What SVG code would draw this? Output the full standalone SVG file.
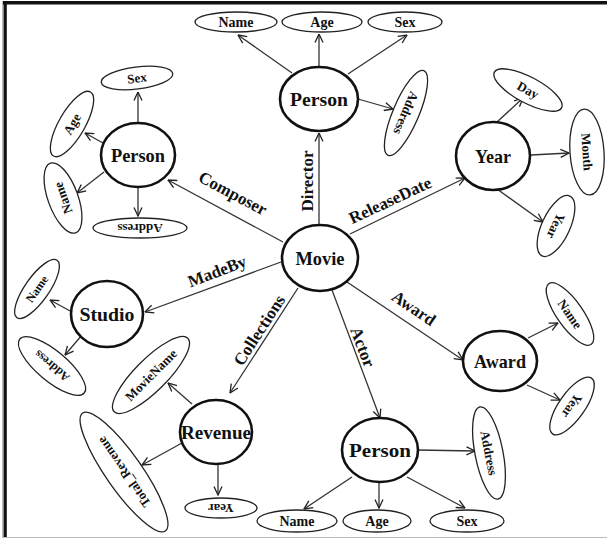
<svg xmlns="http://www.w3.org/2000/svg" width="607" height="539" viewBox="0 0 607 539">
<defs>
<marker id="arr" viewBox="0 0 10 10" refX="9.5" refY="5" markerWidth="10" markerHeight="10" markerUnits="userSpaceOnUse" orient="auto">
<path d="M1,1 L9.5,5 L1,9" fill="none" stroke="#222" stroke-width="1.3"/>
</marker>
<style>
.ent{fill:#fff;stroke:#111;stroke-width:2.6}
.att{fill:#fff;stroke:#222;stroke-width:1.3}
.e{stroke:#333;stroke-width:1.3;fill:none;marker-end:url(#arr)}
text{font-family:"Liberation Serif","Times New Roman",serif;font-weight:bold;fill:#111;text-anchor:middle}
.nl{font-size:19px}
.al{font-size:14px}
.sl{font-size:13px}
.el{font-size:17px}
</style>
</defs>
<rect width="607" height="539" fill="#fff"/>
<g id="frame">
<rect x="3" y="1" width="604" height="3.5" fill="#111"/>
<rect x="3.5" y="1" width="3.3" height="537" fill="#111"/>
<line x1="2.5" y1="1" x2="2.5" y2="538" stroke="#bbb" stroke-width="1"/>
<line x1="3" y1="537.5" x2="607" y2="537.5" stroke="#bbb" stroke-width="1.2"/>
</g>
<g id="connectors">
<line class="e" x1="319" y1="225" x2="319" y2="133"/>
<line class="e" x1="350" y1="234" x2="465" y2="178"/>
<line class="e" x1="283" y1="242" x2="168" y2="180"/>
<line class="e" x1="281" y1="262" x2="145" y2="312"/>
<line class="e" x1="298" y1="288" x2="230" y2="393"/>
<line class="e" x1="332" y1="290" x2="380" y2="418"/>
<line class="e" x1="347" y1="282" x2="463" y2="360"/>
<line class="e" x1="292" y1="73" x2="238" y2="35"/>
<line class="e" x1="319" y1="67" x2="319" y2="34"/>
<line class="e" x1="348" y1="74" x2="407" y2="35"/>
<line class="e" x1="358" y1="99" x2="393" y2="109"/>
<line class="e" x1="497" y1="122" x2="523" y2="98"/>
<line class="e" x1="531" y1="155" x2="569" y2="153"/>
<line class="e" x1="497" y1="189" x2="543" y2="222"/>
<line class="e" x1="138" y1="123" x2="138" y2="92"/>
<line class="e" x1="103" y1="143" x2="85" y2="133"/>
<line class="e" x1="104" y1="172" x2="77" y2="193"/>
<line class="e" x1="138" y1="187" x2="138" y2="216"/>
<line class="e" x1="72" y1="312" x2="50" y2="300"/>
<line class="e" x1="82" y1="335" x2="65" y2="355"/>
<line class="e" x1="192" y1="404" x2="168" y2="383"/>
<line class="e" x1="182" y1="443" x2="142" y2="465"/>
<line class="e" x1="218" y1="464" x2="218" y2="495"/>
<line class="e" x1="528" y1="338" x2="558" y2="323"/>
<line class="e" x1="527" y1="385" x2="560" y2="400"/>
<line class="e" x1="417" y1="450" x2="475" y2="451"/>
<line class="e" x1="352" y1="477" x2="304" y2="509"/>
<line class="e" x1="379" y1="482" x2="379" y2="508"/>
<line class="e" x1="407" y1="477" x2="465" y2="508"/>
<text class="el" transform="translate(307,181) rotate(-90)" y="6">Director</text>
<text class="el" transform="translate(390,200) rotate(-25)" y="6">ReleaseDate</text>
<text class="el" transform="translate(233,193) rotate(28)" y="6">Composer</text>
<text class="el" transform="translate(217,271) rotate(-21)" y="6">MadeBy</text>
<text class="el" transform="translate(259,330) rotate(-57)" y="6">Collections</text>
<text class="el" transform="translate(363,347) rotate(69)" y="6">Actor</text>
<text class="el" transform="translate(414,308) rotate(34)" y="6">Award</text>
</g>
<g id="movie"><ellipse class="ent" cx="320" cy="258" rx="38" ry="33"/><text class="nl" x="320" y="265" textLength="49" lengthAdjust="spacingAndGlyphs">Movie</text></g>
<g id="director-person"><ellipse class="ent" cx="319" cy="99" rx="39" ry="32"/><text class="nl" x="319" y="106" textLength="58" lengthAdjust="spacingAndGlyphs">Person</text></g>
<g id="director-name"><ellipse class="att" cx="236" cy="22" rx="41" ry="10"/><text class="al" x="236" y="27">Name</text></g>
<g id="director-age"><ellipse class="att" cx="322" cy="22" rx="40" ry="10"/><text class="al" x="322" y="27">Age</text></g>
<g id="director-sex"><ellipse class="att" cx="405" cy="22" rx="37" ry="10"/><text class="al" x="405" y="27">Sex</text></g>
<g id="director-address" transform="translate(406,113) rotate(113)"><ellipse class="att" cx="0" cy="0" rx="46" ry="13"/><text class="sl" y="4.5">Address</text></g>
<g id="year"><ellipse class="ent" cx="493" cy="156" rx="37" ry="34"/><text class="nl" x="493" y="163" textLength="36" lengthAdjust="spacingAndGlyphs">Year</text></g>
<g id="year-day" transform="translate(528,90) rotate(28)"><ellipse class="att" cx="0" cy="0" rx="38" ry="13"/><text class="sl" y="4.5">Day</text></g>
<g id="year-month" transform="translate(587,152) rotate(86)"><ellipse class="att" cx="0" cy="0" rx="43" ry="17"/><text class="sl" y="4.5">Month</text></g>
<g id="year-year" transform="translate(556,226) rotate(115)"><ellipse class="att" cx="0" cy="0" rx="33" ry="14"/><text class="sl" y="4.5">Year</text></g>
<g id="composer-person"><ellipse class="ent" cx="138" cy="155" rx="37" ry="32"/><text class="nl" x="138" y="162" textLength="54" lengthAdjust="spacingAndGlyphs">Person</text></g>
<g id="composer-sex" transform="translate(137,78) rotate(-7)"><ellipse class="att" cx="0" cy="0" rx="36" ry="11"/><text class="sl" y="4.5">Sex</text></g>
<g id="composer-age" transform="translate(72,124) rotate(-60)"><ellipse class="att" cx="0" cy="0" rx="37" ry="13"/><text class="sl" y="4.5">Age</text></g>
<g id="composer-name" transform="translate(63,198) rotate(-110)"><ellipse class="att" cx="0" cy="0" rx="37" ry="15"/><text class="sl" y="4.5">Name</text></g>
<g id="composer-address" transform="translate(140,228) rotate(180)"><ellipse class="att" cx="0" cy="0" rx="47" ry="10"/><text class="sl" y="4.5">Address</text></g>
<g id="studio"><ellipse class="ent" cx="107" cy="314" rx="36" ry="33"/><text class="nl" x="107" y="321" textLength="55" lengthAdjust="spacingAndGlyphs">Studio</text></g>
<g id="studio-name" transform="translate(37,289) rotate(-55)"><ellipse class="att" cx="0" cy="0" rx="35" ry="12"/><text style="font-size:12px" y="4">Name</text></g>
<g id="studio-address" transform="translate(52,366) rotate(220)"><ellipse class="att" cx="0" cy="0" rx="42" ry="15"/><text style="font-size:12px" y="4">Address</text></g>
<g id="revenue"><ellipse class="ent" cx="216" cy="432" rx="36" ry="32"/><text class="nl" x="216" y="439" textLength="70" lengthAdjust="spacingAndGlyphs">Revenue</text></g>
<g id="revenue-moviename" transform="translate(151,375) rotate(-45)"><ellipse class="att" cx="0" cy="0" rx="52" ry="16"/><text class="sl" y="4.5">MovieName</text></g>
<g id="revenue-total" transform="translate(124,472) rotate(235)"><ellipse class="att" cx="0" cy="0" rx="72" ry="18"/><text class="sl" y="4.5">Total_Revenue</text></g>
<g id="revenue-year" transform="translate(221,508) rotate(180)"><ellipse class="att" cx="0" cy="0" rx="36" ry="10"/><text class="sl" y="4.5">Year</text></g>
<g id="award"><ellipse class="ent" cx="500" cy="361" rx="37" ry="30"/><text class="nl" x="500" y="368" textLength="52" lengthAdjust="spacingAndGlyphs">Award</text></g>
<g id="award-name" transform="translate(570,314) rotate(55)"><ellipse class="att" cx="0" cy="0" rx="37" ry="13"/><text class="sl" y="4.5">Name</text></g>
<g id="award-year" transform="translate(572,406) rotate(125)"><ellipse class="att" cx="0" cy="0" rx="34" ry="13"/><text class="sl" y="4.5">Year</text></g>
<g id="actor-person"><ellipse class="ent" cx="380" cy="450" rx="38" ry="32"/><text class="nl" x="380" y="457" textLength="62" lengthAdjust="spacingAndGlyphs">Person</text></g>
<g id="actor-address" transform="translate(489,453) rotate(79)"><ellipse class="att" cx="0" cy="0" rx="47" ry="14"/><text class="sl" y="4.5">Address</text></g>
<g id="actor-name"><ellipse class="att" cx="297" cy="521" rx="40" ry="11"/><text class="al" x="297" y="526">Name</text></g>
<g id="actor-age"><ellipse class="att" cx="377" cy="521" rx="34" ry="11"/><text class="al" x="377" y="526">Age</text></g>
<g id="actor-sex"><ellipse class="att" cx="467" cy="521" rx="37" ry="11"/><text class="al" x="467" y="526">Sex</text></g>
</svg>
